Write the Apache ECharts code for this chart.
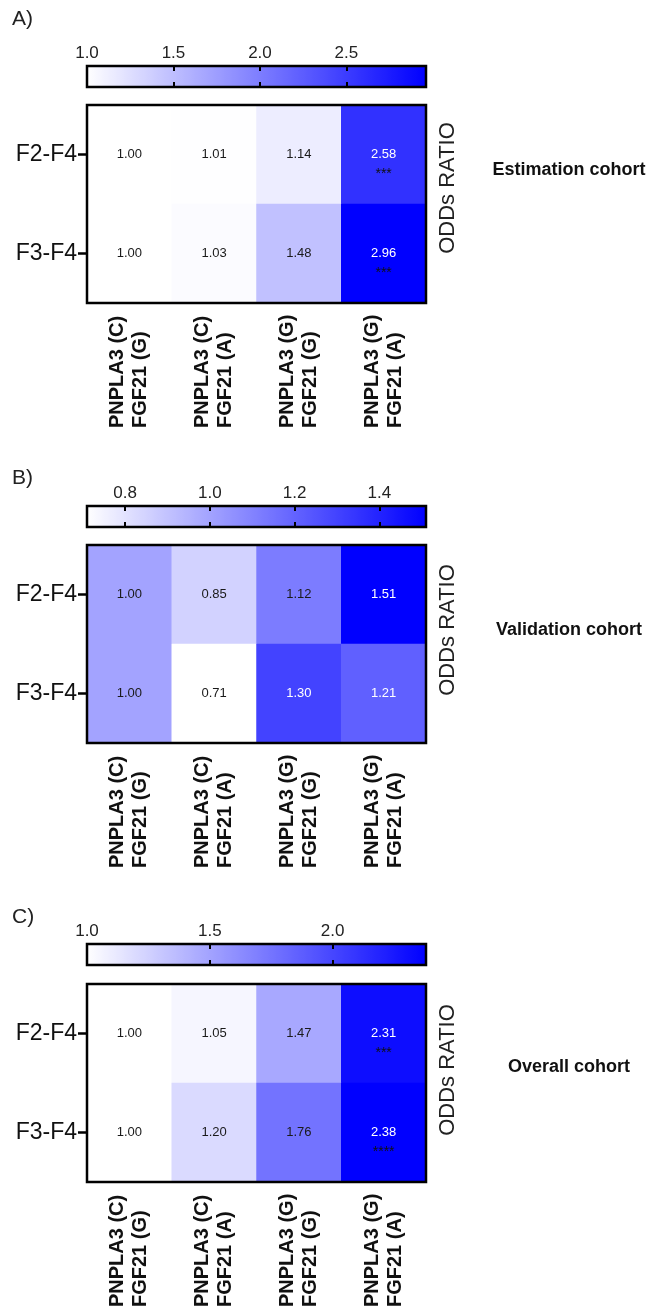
<!DOCTYPE html>
<html>
<head>
<meta charset="utf-8">
<script src="https://cdn.jsdelivr.net/npm/echarts@6/dist/echarts.min.js"></script>
<style>
  html, body { margin: 0; padding: 0; background: #fff; }
  #chart { width: 648px; height: 1310px; }
</style>
</head>
<body>
<div id="chart"></div>
<script>
// genotype combinations (x) and fibrosis comparisons (y)
const genotypes = ['PNPLA3 (C)\nFGF21 (G)', 'PNPLA3 (C)\nFGF21 (A)', 'PNPLA3 (G)\nFGF21 (G)', 'PNPLA3 (G)\nFGF21 (A)'];
const stages = ['F2-F4', 'F3-F4'];

// A) estimation cohort
const estimationF2 = [1.00, 1.01, 1.14, 2.58];
const estimationF3 = [1.00, 1.03, 1.48, 2.96];
const estimationStarsF2 = ['', '', '', '***'];
const estimationStarsF3 = ['', '', '', '***'];
const estimationTicks = [1.0, 1.5, 2.0, 2.5];

// B) validation cohort
const validationF2 = [1.00, 0.85, 1.12, 1.51];
const validationF3 = [1.00, 0.71, 1.30, 1.21];
const validationStarsF2 = ['', '', '', ''];
const validationStarsF3 = ['', '', '', ''];
const validationTicks = [0.8, 1.0, 1.2, 1.4];

// C) overall cohort
const overallF2 = [1.00, 1.05, 1.47, 2.31];
const overallF3 = [1.00, 1.20, 1.76, 2.38];
const overallStarsF2 = ['', '', '', '***'];
const overallStarsF3 = ['', '', '', '****'];
const overallTicks = [1.0, 1.5, 2.0];

const FONT = 'Liberation Sans, Arial, Helvetica, sans-serif';
const LEFT = 87, WIDTH = 339;

const panels = [
  { letter: 'A)', letterY: 19, cbTop: 66, hmTop: 105, oddsY: 188, cohort: 'Estimation cohort', cohortY: 170,
    rows: [estimationF2, estimationF3], stars: [estimationStarsF2, estimationStarsF3], ticks: estimationTicks },
  { letter: 'B)', letterY: 478, cbTop: 506, hmTop: 545, oddsY: 630, cohort: 'Validation cohort', cohortY: 630,
    rows: [validationF2, validationF3], stars: [validationStarsF2, validationStarsF3], ticks: validationTicks },
  { letter: 'C)', letterY: 917, cbTop: 944, hmTop: 984, oddsY: 1070, cohort: 'Overall cohort', cohortY: 1067,
    rows: [overallF2, overallF3], stars: [overallStarsF2, overallStarsF3], ticks: overallTicks }
];

const chart = echarts.init(document.getElementById('chart'), null, { renderer: 'canvas' });

const grid = [], xAxis = [], yAxis = [], series = [], visualMap = [], graphic = [];

panels.forEach((p, i) => {
  const all = p.rows[0].concat(p.rows[1]);
  const vmin = Math.min.apply(null, all);
  const vmax = Math.max.apply(null, all);

  // colour bar frame + heatmap frame
  grid.push({ left: LEFT, width: WIDTH, top: p.cbTop, height: 21, show: true, borderColor: '#000', borderWidth: 2.5, backgroundColor: 'transparent', z: 10, outerBoundsMode: 'none' });
  grid.push({ left: LEFT, width: WIDTH, top: p.hmTop, height: 198, show: true, borderColor: '#000', borderWidth: 2.5, backgroundColor: 'transparent', z: 10, outerBoundsMode: 'none' });

  // colour-bar axes: ticks point inwards from the top and bottom edges
  const cbAxis = (pos, labels) => ({
    type: 'value', gridIndex: 2 * i, position: pos, min: vmin, max: vmax,
    axisLine: { show: false, onZero: false }, splitLine: { show: false },
    axisTick: { show: true, inside: true, length: 5, customValues: p.ticks.filter(t => t > vmin + 0.01), lineStyle: { color: '#000', width: 2 } },
    axisLabel: { show: labels, customValues: p.ticks, margin: 4, fontSize: 17, fontFamily: FONT, color: '#222',
      formatter: v => v.toFixed(1) },
    z: 11
  });
  xAxis.push(cbAxis('top', true));
  xAxis.push(cbAxis('bottom', false));
  xAxis.push({
    type: 'category', gridIndex: 2 * i + 1, data: genotypes,
    axisLine: { show: false }, axisTick: { show: false },
    axisLabel: { interval: 0, rotate: 90, align: 'left', verticalAlign: 'middle', margin: 125,
      fontSize: 20, lineHeight: 23, fontWeight: 'bold', fontFamily: FONT, color: '#111' }
  });

  yAxis.push({ type: 'category', gridIndex: 2 * i, show: false, data: ['bar'] });
  yAxis.push({
    type: 'category', gridIndex: 2 * i + 1, data: stages, inverse: true,
    axisLine: { show: false },
    axisTick: { show: true, alignWithLabel: true, length: 9, lineStyle: { color: '#000', width: 2.5 } },
    axisLabel: { margin: 10, fontSize: 23, fontFamily: FONT, color: '#111' }
  });

  const data = [];
  p.rows.forEach((row, r) => {
    row.forEach((v, c) => {
      const t = (v - vmin) / (vmax - vmin);
      data.push({ value: [c, r, v], stars: p.stars[r][c], label: { color: t > 0.6 ? '#fff' : '#1a1a1a' } });
    });
  });

  series.push({
    type: 'heatmap', xAxisIndex: 3 * i + 2, yAxisIndex: 2 * i + 1, data: data,
    label: {
      show: true, fontFamily: FONT,
      formatter: prm => {
        const v = prm.value[2].toFixed(2);
        const s = prm.data.stars;
        return s ? '{e| }\n{v|' + v + '}\n{s|' + s + '}' : '{v|' + v + '}';
      },
      rich: {
        e: { fontSize: 11, lineHeight: 20 },
        v: { fontSize: 13, lineHeight: 20, fontFamily: FONT },
        s: { fontSize: 14, lineHeight: 20, color: '#111', fontFamily: FONT }
      }
    },
    emphasis: { disabled: true }
  });

  visualMap.push({
    type: 'continuous', seriesIndex: i, min: vmin, max: vmax, calculable: false,
    orient: 'horizontal', left: LEFT, top: p.cbTop, itemWidth: 21, itemHeight: WIDTH,
    padding: 0, inRange: { color: ['#ffffff', '#0000ff'] }, hoverLink: false
  });

  graphic.push({ type: 'text', x: 12, y: p.letterY, style: { text: p.letter, fontSize: 21, fontFamily: FONT, fill: '#222', verticalAlign: 'middle' } });
  graphic.push({ type: 'text', x: 448, y: p.oddsY, rotation: Math.PI / 2,
    style: { text: 'ODDs RATIO', fontSize: 22, fontFamily: FONT, fill: '#222', align: 'center', verticalAlign: 'middle' } });
  graphic.push({ type: 'text', x: 569, y: p.cohortY,
    style: { text: p.cohort, fontSize: 18, fontWeight: 'bold', fontFamily: FONT, fill: '#111', align: 'center', verticalAlign: 'middle' } });
});

chart.setOption({
  animation: false,
  backgroundColor: '#fff',
  grid: grid,
  xAxis: xAxis,
  yAxis: yAxis,
  visualMap: visualMap,
  series: series,
  graphic: graphic
});
</script>
</body>
</html>
